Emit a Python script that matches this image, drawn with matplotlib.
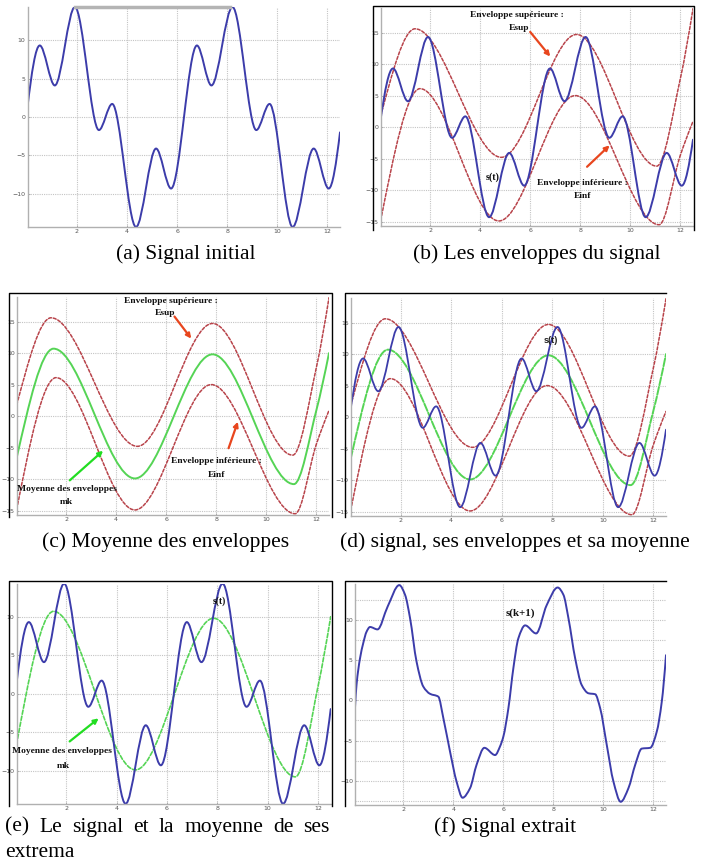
import numpy as np
import matplotlib
matplotlib.use("Agg")
import matplotlib.pyplot as plt
from matplotlib.path import Path
from matplotlib.patches import PathPatch
from matplotlib.lines import Line2D

W, H = 704, 863

# --- values (t, amplitude) ---
# signal initial s(t): start, extrema, end
s_t = [0.03, 0.52, 1.12, 1.92, 2.88, 3.41, 4.36, 5.16, 5.76,
       6.79, 7.37, 8.21, 9.16, 9.69, 10.61, 11.45, 12.05, 12.5]
s_y = [1.3, 9.3, 4.1, 14.3, -1.7, 1.7, -14.3, -4.1, -9.3,
       9.3, 4.1, 14.3, -1.7, 1.7, -14.3, -4.1, -9.3, -2.0]

# enveloppe superieure Esup
esup_t = [0.03, 1.4, 4.85, 7.85, 11.05, 12.0, 12.5]
esup_y = [1.8, 15.6, -4.8, 14.7, -6.2, 7.8, 18.8]

# enveloppe inferieure Einf
einf_t = [0.03, 1.6, 4.75, 7.8, 11.15, 12.0, 12.5]
einf_y = [-14.8, 6.1, -14.9, 5.0, -15.5, -4.4, 0.9]

# moyenne des enveloppes mk
mk_t = [0.03, 1.5, 4.75, 7.85, 11.1, 12.0, 12.5]
mk_y = [-6.6, 10.7, -9.9, 9.8, -10.8, 1.0, 10.0]

# signal extrait s(k+1)
fk_t = [0.07, 0.13, 0.27, 0.40, 0.53, 0.67, 0.97, 1.37, 1.84, 2.07, 2.27,
        2.53, 2.80, 3.07, 3.40, 3.60, 3.87, 4.13, 4.37, 4.67, 4.93, 5.24,
        5.67, 5.87, 6.00, 6.20, 6.40, 6.60, 6.87, 7.31, 7.73, 8.17, 8.40,
        8.60, 8.87, 9.13, 9.40, 9.67, 9.87, 10.13, 10.40, 10.69, 11.00,
        11.27, 11.53, 11.87, 12.13, 12.33, 12.50]
fk_y = [-0.9, 1.9, 5.2, 7.1, 8.5, 9.1, 8.8, 11.6, 14.3, 13.1, 10.2,
        4.8, 1.7, 0.8, 0.45, -2.2, -6.4, -10.1, -12.1, -10.9, -8.0, -5.9,
        -6.8, -5.7, -4.5, -1.0, 4.0, 7.7, 9.3, 8.3, 11.8, 14.0, 13.1,
        10.2, 5.2, 1.9, 0.87, 0.75, -1.0, -5.5, -10.1, -12.6, -10.9,
        -8.0, -6.0, -5.9, -3.9, -0.2, 5.6]

x_ticks = [2, 4, 6, 8, 10, 12]
y_ticks_s = [-10, -5, 0, 5, 10]
y_ticks_env = [-15, -10, -5, 0, 5, 10, 15]

BLUE = "#3c3caa"
RED = "#b8434a"
GREEN = "#55d455"
ARROW_RED = "#e8461e"
ARROW_GREEN = "#22dd22"
SERIF = "Liberation Serif"


def smooth_path(t, y):
    # monotone cubic through the read points, drawn as bezier segments
    t = np.asarray(t, float)
    y = np.asarray(y, float)
    h = np.diff(t)
    d = np.diff(y) / h
    m = np.zeros_like(y)
    for k in range(1, len(y) - 1):
        if d[k - 1] * d[k] > 0:
            w1 = 2 * h[k] + h[k - 1]
            w2 = h[k] + 2 * h[k - 1]
            m[k] = (w1 + w2) / (w1 / d[k - 1] + w2 / d[k])

    def end(h0, h1, d0, d1):
        v = ((2 * h0 + h1) * d0 - h0 * d1) / (h0 + h1)
        if np.sign(v) != np.sign(d0):
            v = 0.0
        elif np.sign(d0) != np.sign(d1) and abs(v) > abs(3 * d0):
            v = 3 * d0
        return v

    m[0] = end(h[0], h[1], d[0], d[1])
    m[-1] = end(h[-1], h[-2], d[-1], d[-2])
    verts = [(t[0], y[0])]
    codes = [Path.MOVETO]
    for k in range(len(h)):
        verts += [(t[k] + h[k] / 3, y[k] + m[k] * h[k] / 3),
                  (t[k + 1] - h[k] / 3, y[k + 1] - m[k + 1] * h[k] / 3),
                  (t[k + 1], y[k + 1])]
        codes += [Path.CURVE4] * 3
    return Path(verts, codes)


def curve(ax, t, y, color, lw, ls="-"):
    ax.add_patch(PathPatch(smooth_path(t, y), facecolor="none",
                           edgecolor=color, lw=lw, linestyle=ls,
                           capstyle="round", joinstyle="round"))


def make_axes(fig, left, right, top, bottom, xlim, ylim, yticks):
    ax = fig.add_axes([left / W, 1 - bottom / H, (right - left) / W,
                       (bottom - top) / H])
    ax.set_xlim(*xlim)
    ax.set_ylim(*ylim)
    ax.set_xticks(x_ticks)
    ax.set_yticks(yticks)
    ax.tick_params(labelsize=4.5, labelcolor="#555555", length=1.5,
                   width=0.5, color="#999999", direction="in", pad=1.5)
    ax.grid(True, color="#c4c4c4", lw=0.8, ls=(0, (1, 1)))
    ax.set_axisbelow(True)
    for side in ["top", "right"]:
        ax.spines[side].set_visible(False)
    for side in ["left", "bottom"]:
        ax.spines[side].set_color("#b0b0b0")
        ax.spines[side].set_linewidth(1.0)
    return ax


def frame(fig, x0, x1, y0, y1, right=True):
    pts = [(x0, y1), (x0, y0), (x1, y0)]
    if right:
        pts.append((x1, y1))
    xs = [p[0] / W for p in pts]
    ys = [1 - p[1] / H for p in pts]
    fig.add_artist(Line2D(xs, ys, color="black", lw=1.0,
                          transform=fig.transFigure))


def arrow(ax, tail, head, color):
    ax.annotate("", xy=head, xytext=tail,
                arrowprops=dict(arrowstyle="-|>", color=color, lw=1.6,
                                mutation_scale=7, shrinkA=0, shrinkB=0))


def label(ax, x, y, s, size=6.8):
    ax.text(x, y, s, ha="center", va="center", fontsize=size,
            family=SERIF, fontweight="bold", color="#111111")


fig = plt.figure(figsize=(W / 100, H / 100), dpi=100)
fig.patch.set_facecolor("white")

# (a) signal initial
ax_a = make_axes(fig, 27.5, 340, 7, 227, (0.03, 12.5), (-14.3, 14.3), y_ticks_s)
curve(ax_a, s_t, s_y, BLUE, 1.4)
ax_a.axhline(14.3, xmin=0.152, xmax=0.648, color="#b4b4b4", lw=2.5,
             clip_on=False)

# (b) les enveloppes du signal
frame(fig, 372.7, 694.3, 6, 230)
ax_b = make_axes(fig, 380.7, 693, 8, 226, (0.03, 12.5), (-15.7, 18.9), y_ticks_env)
curve(ax_b, esup_t, esup_y, RED, 1.1, (0, (2, 1.2)))
curve(ax_b, einf_t, einf_y, RED, 1.1, (0, (2, 1.2)))
curve(ax_b, s_t, s_y, BLUE, 1.4)
label(ax_b, 5.47, 17.8, "Enveloppe supérieure :")
label(ax_b, 5.57, 15.8, "Esup")
arrow(ax_b, (6.0, 15.1), (6.8, 11.2), ARROW_RED)
label(ax_b, 4.5, -8.0, "s(t)", 7.2)
label(ax_b, 8.07, -8.8, "Enveloppe inférieure :")
label(ax_b, 8.1, -10.9, "Einf")
arrow(ax_b, (8.27, -6.3), (9.17, -2.9), ARROW_RED)

# (c) moyenne des enveloppes
frame(fig, 9.3, 331.7, 293.3, 517)
ax_c = make_axes(fig, 16.7, 329, 297, 515, (0.03, 12.5), (-15.7, 18.9), y_ticks_env)
curve(ax_c, esup_t, esup_y, RED, 1.1, (0, (2, 1.2)))
curve(ax_c, einf_t, einf_y, RED, 1.1, (0, (2, 1.2)))
curve(ax_c, mk_t, mk_y, GREEN, 1.4)
label(ax_c, 6.2, 18.3, "Enveloppe supérieure :")
label(ax_c, 5.94, 16.3, "Esup")
arrow(ax_c, (6.33, 15.8), (7.0, 12.3), ARROW_RED)
label(ax_c, 8.0, -7.1, "Enveloppe inférieure :")
label(ax_c, 8.0, -9.3, "Einf")
arrow(ax_c, (8.49, -5.1), (8.86, -0.9), ARROW_RED)
label(ax_c, 2.02, -11.6, "Moyenne des enveloppes")
label(ax_c, 2.02, -13.7, "mk")
arrow(ax_c, (2.15, -10.2), (3.48, -5.5), ARROW_GREEN)

# (d) signal, ses enveloppes et sa moyenne
frame(fig, 345, 666, 293.3, 517, right=False)
ax_d = make_axes(fig, 350.7, 666, 298, 516, (0.03, 12.5), (-15.7, 18.9), y_ticks_env)
curve(ax_d, esup_t, esup_y, RED, 1.1, (0, (2, 1.2)))
curve(ax_d, einf_t, einf_y, RED, 1.1, (0, (2, 1.2)))
curve(ax_d, mk_t, mk_y, GREEN, 1.4, (0, (4, 1)))
curve(ax_d, s_t, s_y, BLUE, 1.3)
ax_d.text(7.94, 12.1, "s(t)", ha="center", va="center", fontsize=6.5,
          family="Liberation Sans", fontweight="bold", color="#222222")

# (e) le signal et la moyenne de ses extrema
frame(fig, 9.3, 331.7, 581, 806)
ax_e = make_axes(fig, 16.5, 330.7, 583.6, 803.8, (0.03, 12.5), (-14.3, 14.3), y_ticks_s)
curve(ax_e, mk_t, mk_y, GREEN, 1.2, (0, (2.5, 1.2)))
curve(ax_e, s_t, s_y, BLUE, 1.4)
label(ax_e, 8.1, 12.0, "s(t)", 7)
label(ax_e, 1.85, -7.5, "Moyenne des enveloppes")
label(ax_e, 1.88, -9.4, "mk")
arrow(ax_e, (2.14, -6.2), (3.29, -3.2), ARROW_GREEN)

# (f) signal extrait
frame(fig, 345, 666, 581, 806, right=False)
ax_f = make_axes(fig, 355, 666, 584.3, 805, (0.07, 12.5), (-13.0, 14.4), y_ticks_s)
ax_f.set_yticks([-12.5, -7.5, -2.5, 2.5, 7.5, 12.5], minor=True)
ax_f.tick_params(which="minor", length=0)
ax_f.grid(True, which="minor", color="#c4c4c4", lw=0.8, ls=(0, (1, 1)))
curve(ax_f, fk_t, fk_y, BLUE, 1.4)
ax_f.text(6.67, 10.8, "s(k+1)", ha="center", va="center", fontsize=7.8,
          family=SERIF, fontweight="bold", color="#111111")

# captions
cap = dict(fontsize=15.5, family=SERIF, color="black", va="center")
fig.text(185.5 / W, 1 - 254 / H, "(a) Signal initial", ha="center", **cap)
fig.text(537 / W, 1 - 254 / H, "(b) Les enveloppes du signal", ha="center", **cap)
fig.text(165.5 / W, 1 - 542 / H, "(c) Moyenne des enveloppes", ha="center", **cap)
fig.text(515 / W, 1 - 542 / H, "(d) signal, ses enveloppes et sa moyenne",
         ha="center", **cap)
fig.text(505 / W, 1 - 827 / H, "(f) Signal extrait", ha="center", **cap)
fig.text(5 / W, 1 - 852 / H, "extrema", ha="left", **cap)

# justified first line of caption (e), from x=5 to x=330
renderer = fig.canvas.get_renderer()
words = "(e) Le signal et la moyenne de ses".split()
items = [fig.text(0, 1 - 827 / H, w, ha="left", **cap) for w in words]
widths = [it.get_window_extent(renderer).width for it in items]
gap = (330 - 5 - sum(widths)) / (len(words) - 1)
xpos = 5.0
for it, wd in zip(items, widths):
    it.set_x(xpos / W)
    xpos += wd + gap

fig.savefig("out.png", dpi=100, facecolor="white")
